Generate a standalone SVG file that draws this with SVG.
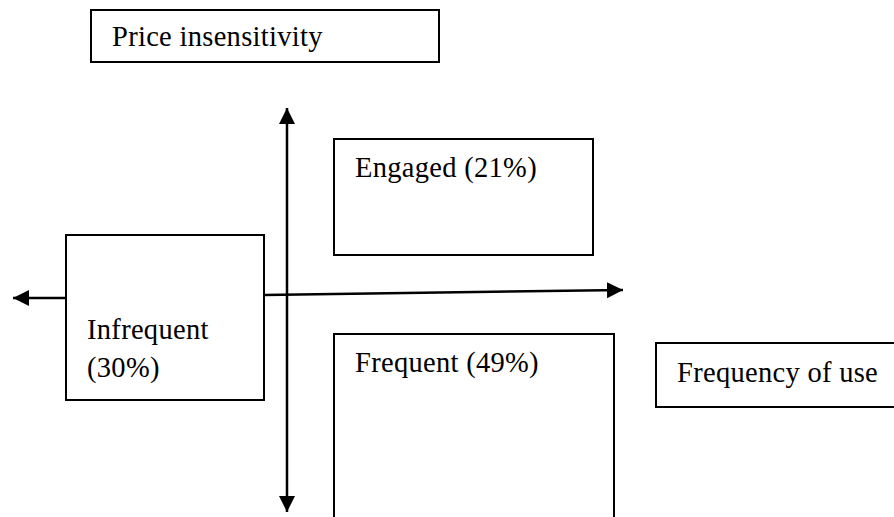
<svg xmlns="http://www.w3.org/2000/svg" width="894" height="517" viewBox="0 0 894 517">
  <style>
    .box { fill: #fff; stroke: #000; stroke-width: 2; }
    .lbl { font-family: "Liberation Serif", "Times New Roman", serif; font-size: 28.5px; letter-spacing: 0.3px; fill: #000; }
    .axis { stroke: #000; stroke-width: 2.5; fill: none; }
  </style>
  <defs>
    <marker id="arrow" markerUnits="userSpaceOnUse" markerWidth="18" markerHeight="18" refX="16" refY="8" orient="auto">
      <path d="M0,0 L16,8 L0,16 Z" fill="#000"/>
    </marker>
  </defs>
  <rect width="894" height="517" fill="#fff"/>

  <g id="price-insensitivity">
    <rect class="box" x="91" y="10" width="348" height="52"/>
    <text class="lbl" x="112" y="46">Price insensitivity</text>
  </g>

  <g id="infrequent">
    <rect class="box" x="66" y="235" width="198" height="165"/>
    <text class="lbl" x="87" y="339">Infrequent</text>
    <text class="lbl" x="87" y="377">(30%)</text>
  </g>

  <g id="engaged">
    <rect class="box" x="334" y="139" width="259" height="116"/>
    <text class="lbl" x="355" y="177">Engaged (21%)</text>
  </g>

  <g id="frequent">
    <rect class="box" x="334" y="334" width="280" height="200"/>
    <text class="lbl" x="355" y="372">Frequent (49%)</text>
  </g>

  <g id="frequency-of-use">
    <rect class="box" x="656" y="343" width="250" height="64"/>
    <text class="lbl" x="677" y="382">Frequency of use</text>
  </g>

  <g id="connectors">
    <line class="axis" x1="66" y1="298" x2="13" y2="298" marker-end="url(#arrow)"/>
    <line class="axis" x1="264" y1="295" x2="623" y2="290" marker-end="url(#arrow)"/>
    <line class="axis" x1="287" y1="300" x2="287" y2="108" marker-end="url(#arrow)"/>
    <line class="axis" x1="287" y1="300" x2="287" y2="512" marker-end="url(#arrow)"/>
  </g>
</svg>
